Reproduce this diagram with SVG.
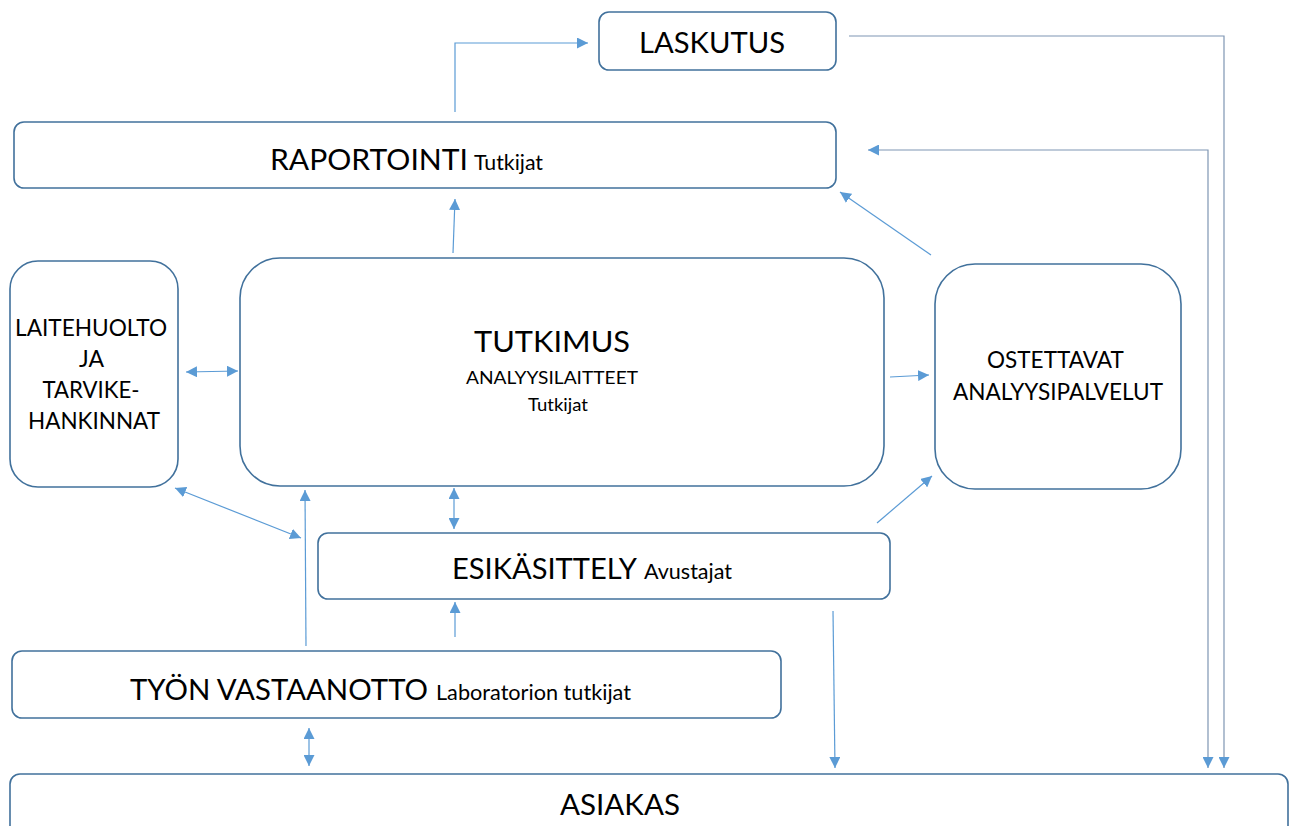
<svg xmlns="http://www.w3.org/2000/svg" width="1293" height="826" viewBox="0 0 1293 826">
<defs>
<style>
.box{fill:#fff;stroke:#41719c;stroke-width:1.6}
.c{fill:none;stroke:#5b9bd5;stroke-width:1.2}
.g{fill:none;stroke:#7f96b3;stroke-width:1.2}
text{font-family:Lato,"Liberation Sans",sans-serif;fill:#000}
.L{font-size:29px}
.M{font-size:23px}
.S{font-size:21px}
.T{font-size:17px}
</style>
<marker id="ae" viewBox="0 0 10 10" refX="10" refY="5" markerWidth="11" markerHeight="11" markerUnits="userSpaceOnUse" orient="auto-start-reverse">
<path d="M0,0 L10,5 L0,10 Z" fill="#5b9bd5"/>
</marker>
</defs>
<rect width="1293" height="826" fill="#fff"/>

<g id="connectors">
<path class="c" d="M455,112 V43 H588" marker-end="url(#ae)"/>
<path class="g" d="M849,36 H1224 V768" marker-end="url(#ae)"/>
<path class="g" d="M868,150 H1208 V768" marker-start="url(#ae)" marker-end="url(#ae)"/>
<path class="c" d="M453,253 L455,199" marker-end="url(#ae)"/>
<path class="c" d="M931,255 L840,192" marker-end="url(#ae)"/>
<path class="c" d="M186,372 L238,371" marker-start="url(#ae)" marker-end="url(#ae)"/>
<path class="c" d="M890,377 L929,375" marker-end="url(#ae)"/>
<path class="c" d="M175,488 L301,538" marker-start="url(#ae)" marker-end="url(#ae)"/>
<path class="c" d="M306,646 L305,490" marker-end="url(#ae)"/>
<path class="c" d="M454,488 L454,529" marker-start="url(#ae)" marker-end="url(#ae)"/>
<path class="c" d="M877,523 L932,476" marker-end="url(#ae)"/>
<path class="c" d="M455,637 L455,602" marker-end="url(#ae)"/>
<path class="c" d="M833,611 L835,768" marker-end="url(#ae)"/>
<path class="c" d="M309,728 L309,766" marker-start="url(#ae)" marker-end="url(#ae)"/>
</g>

<g id="laskutus">
<rect class="box" x="599" y="12" width="237" height="58" rx="10"/>
<text class="L" x="712" y="53" text-anchor="middle" textLength="146" lengthAdjust="spacingAndGlyphs">LASKUTUS</text>
</g>

<g id="raportointi">
<rect class="box" x="14" y="122" width="822" height="66" rx="10"/>
<text x="270" y="170"><tspan class="L" textLength="198" lengthAdjust="spacingAndGlyphs">RAPORTOINTI</tspan><tspan class="S" dx="6" textLength="69" lengthAdjust="spacingAndGlyphs">Tutkijat</tspan></text>
</g>

<g id="laitehuolto">
<rect class="box" x="10" y="261" width="168" height="226" rx="28"/>
<text class="M" text-anchor="middle">
<tspan x="94" y="336" textLength="152" lengthAdjust="spacingAndGlyphs">LAITEHUOLTO</tspan>
<tspan x="94" y="367">JA</tspan>
<tspan x="94" y="398" textLength="97" lengthAdjust="spacingAndGlyphs">TARVIKE-</tspan>
<tspan x="94" y="429" textLength="132" lengthAdjust="spacingAndGlyphs">HANKINNAT</tspan>
</text>
</g>

<g id="tutkimus">
<rect class="box" x="240" y="258" width="644" height="228" rx="40"/>
<text class="L" x="552" y="352" text-anchor="middle" textLength="156" lengthAdjust="spacingAndGlyphs">TUTKIMUS</text>
<text class="T" x="552" y="384" text-anchor="middle" textLength="172" lengthAdjust="spacingAndGlyphs">ANALYYSILAITTEET</text>
<text class="T" x="558" y="411" text-anchor="middle" textLength="60" lengthAdjust="spacingAndGlyphs">Tutkijat</text>
</g>

<g id="ostettavat">
<rect class="box" x="935" y="264" width="246" height="225" rx="40"/>
<text class="M" text-anchor="middle">
<tspan x="1058" y="368" textLength="136" lengthAdjust="spacingAndGlyphs">OSTETTAVAT</tspan>
<tspan x="1058" y="400" textLength="210" lengthAdjust="spacingAndGlyphs">ANALYYSIPALVELUT</tspan>
</text>
</g>

<g id="esikasittely">
<rect class="box" x="318" y="533" width="572" height="66" rx="10"/>
<text x="452" y="579"><tspan class="L" textLength="185" lengthAdjust="spacingAndGlyphs">ESIKÄSITTELY</tspan><tspan class="S" dx="7" textLength="88" lengthAdjust="spacingAndGlyphs">Avustajat</tspan></text>
</g>

<g id="tyon-vastaanotto">
<rect class="box" x="12" y="651" width="769" height="67" rx="10"/>
<text x="130" y="700"><tspan class="L" textLength="298" lengthAdjust="spacingAndGlyphs">TYÖN VASTAANOTTO</tspan><tspan class="S" dx="8" textLength="195" lengthAdjust="spacingAndGlyphs">Laboratorion tutkijat</tspan></text>
</g>

<g id="asiakas">
<rect class="box" x="10" y="774" width="1278" height="70" rx="10"/>
<text class="L" x="620" y="815" text-anchor="middle" textLength="120" lengthAdjust="spacingAndGlyphs">ASIAKAS</text>
</g>
</svg>
